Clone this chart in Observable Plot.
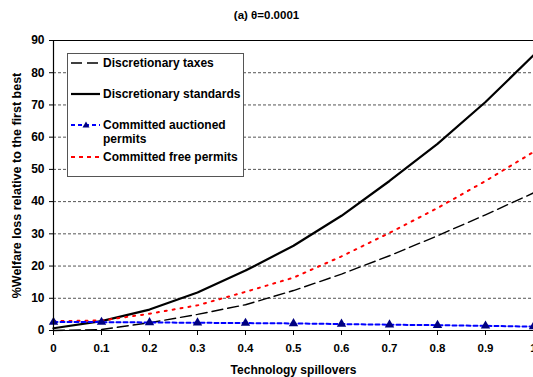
<!DOCTYPE html>
<html><head><meta charset="utf-8">
<script src="https://cdn.jsdelivr.net/npm/d3@7"></script>
<script src="https://cdn.jsdelivr.net/npm/@observablehq/plot@0.6"></script>
<style>
body{margin:0;background:#fff;font-family:"Liberation Sans",Arial,sans-serif;}
#wrap{position:relative;width:533px;height:377px;overflow:hidden;background:#fff}
#title{height:30px;line-height:30px;text-align:center;font-weight:bold;font-size:11.5px;color:#000}
#legend{position:absolute;left:67px;top:53px;width:177px;height:124px;border:1px solid #555;background:#fff;box-sizing:border-box;font-weight:bold;font-size:12px;color:#000}
.item{position:absolute;left:0;width:176px}
.item svg{position:absolute;left:3px}
.item span{position:absolute;left:35px;line-height:14px;white-space:nowrap}
#chart svg text{font-weight:bold}
</style></head>
<body>
<div id="wrap">
<div id="title">(a) θ=0.0001</div>
<div id="chart"></div>
<div id="legend"></div>
</div>
<script>
const spill = [0, 0.1, 0.2, 0.3, 0.4, 0.5, 0.6, 0.7, 0.8, 0.9, 1.0];
const taxes = [0, 0.3, 2.4, 5, 8, 12.4, 17.5, 23.2, 29.4, 35.9, 42.7];
const standards = [0.7, 2.9, 6.5, 11.8, 18.6, 26.3, 35.6, 46.4, 57.9, 70.9, 85.4];
const auctioned = [2.6, 2.6, 2.5, 2.4, 2.3, 2.2, 2.0, 1.8, 1.65, 1.45, 1.2];
const freePermits = [2.9, 3.1, 5.2, 7.8, 12, 16.4, 23, 30.3, 38, 46.4, 55.4];
const seriesNames = ["Discretionary taxes", "Discretionary standards", "Committed auctioned permits", "Committed free permits"];
const xTicks = [0, 0.1, 0.2, 0.3, 0.4, 0.5, 0.6, 0.7, 0.8, 0.9, 1];
const yTicks = [0, 10, 20, 30, 40, 50, 60, 70, 80, 90];
const gridTicks = [10, 20, 30, 40, 50, 60, 70, 80];

const mk = (vals) => spill.map((x, i) => ({x, y: vals[i]}));
const dTaxes = mk(taxes), dStd = mk(standards), dAuc = mk(auctioned), dFree = mk(freePermits);

const chart = Plot.plot({
  width: 533,
  height: 347,
  marginLeft: 53,
  marginRight: 0,
  marginTop: 10,
  marginBottom: 47,
  style: {fontFamily: "Liberation Sans, Arial, sans-serif", fontWeight: "bold", fontSize: "12px", color: "#000", overflow: "visible"},
  x: {domain: [0, 1]},
  y: {domain: [0, 90]},
  marks: [
    Plot.ruleY(gridTicks, {stroke: "#555", strokeDasharray: "3,2", strokeWidth: 1}),
    Plot.ruleY([90], {stroke: "#000", strokeWidth: 1.2}),
    Plot.axisX({ticks: xTicks, tickSize: 5, tickPadding: 8, tickFormat: d => d === 0 ? "0" : d === 1 ? "1" : d3.format(".1f")(d), fontSize: 11.5, fontWeight: "bold", label: null}),
    Plot.axisX({ticks: [], label: "Technology spillovers", labelAnchor: "center", labelArrow: "none", labelOffset: 43, fontSize: 12, fontWeight: "bold", tickSize: 0}),
    Plot.axisY({ticks: yTicks, tickSize: 4, tickPadding: 5, fontSize: 12, fontWeight: "bold", label: null}),
    Plot.axisY({ticks: [], label: "%Welfare loss relative to the first best", labelAnchor: "center", labelArrow: "none", labelOffset: 41, fontSize: 12.5, fontWeight: "bold", tickSize: 0}),
    Plot.line(dTaxes, {x: "x", y: "y", stroke: "#000", strokeWidth: 1.4, strokeDasharray: "11,5"}),
    Plot.line(dStd, {x: "x", y: "y", stroke: "#000", strokeWidth: 2.2}),
    Plot.line(dFree, {x: "x", y: "y", stroke: "#ff0000", strokeWidth: 2, strokeDasharray: "2,6"}),
    Plot.line(dAuc, {x: "x", y: "y", stroke: "#0000ff", strokeWidth: 2, strokeDasharray: "4,3"}),
    Plot.dot(dAuc, {x: "x", y: "y", symbol: "triangle", r: 3.5, fill: "#000080", stroke: "none"}),
    Plot.ruleX([0], {stroke: "#000", strokeWidth: 1.2}),
    Plot.ruleY([0], {stroke: "#000", strokeWidth: 1.2})
  ]
});
document.getElementById("chart").appendChild(chart);

// legend
const legend = document.getElementById("legend");
const entries = [
  {name: seriesNames[0], top: 9, stroke: "#000", dash: "11,5", w: 1.6, tri: false},
  {name: seriesNames[1], top: 40, stroke: "#000", dash: null, w: 2.2, tri: false},
  {name: "Committed auctioned<br>permits", top: 71, stroke: "#0000ff", dash: "4,3", w: 2, tri: true},
  {name: seriesNames[3], top: 103, stroke: "#ff0000", dash: "4,4", w: 2, tri: false}
];
entries.forEach(e => {
  const div = document.createElement("div");
  div.className = "item";
  div.style.top = (e.top - 7) + "px";
  div.innerHTML = `<svg width="30" height="14" style="top:0"><line x1="0" x2="29" y1="7" y2="7" stroke="${e.stroke}" stroke-width="${e.w}" ${e.dash ? `stroke-dasharray="${e.dash}"` : ""}/>${e.tri ? `<path d="M15,3.5 L18.5,9.5 L11.5,9.5 Z" fill="#000080"/>` : ""}</svg><span style="top:0">${e.name}</span>`;
  legend.appendChild(div);
});
</script>
</body></html>
